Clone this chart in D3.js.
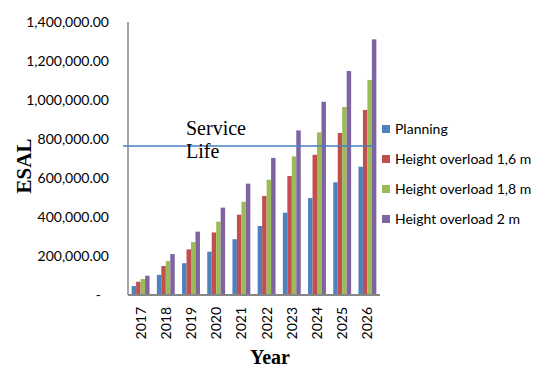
<!DOCTYPE html>
<html>
<head>
<meta charset="utf-8">
<script src="https://cdn.jsdelivr.net/npm/d3@7"></script>
<style>
  body { margin: 0; background: #fff; }
  svg { display: block; }
</style>
</head>
<body>
<div id="grafica"></div>
<script>
// datos
years      = ['2017', '2018', '2019', '2020', '2021', '2022', '2023', '2024', '2025', '2026']
series     = ['Planning', 'Height overload 1,6 m', 'Height overload 1,8 m', 'Height overload 2 m']
colores    = ['#4F81BD', '#C0504D', '#9BBB59', '#8064A2']
planning   = [46000, 103000, 163000, 222000, 286000, 354000, 422000, 497000, 578000, 658000]
overload16 = [68000, 149000, 234000, 321000, 412000, 508000, 610000, 719000, 831000, 949000]
overload18 = [82000, 174000, 271000, 376000, 478000, 591000, 711000, 834000, 964000, 1103000]
overload2  = [99000, 210000, 325000, 448000, 571000, 703000, 844000, 991000, 1149000, 1311000]
yTicks     = [0, 200000, 400000, 600000, 800000, 1000000, 1200000, 1400000]
serviceLife = 764000

valores = [planning, overload16, overload18, overload2]

ancho_total = 545
alto_total  = 369
margin = { left: 128, right: 165, top: 22, bottom: 74 }

ancho = ancho_total - margin.left - margin.right
alto  = alto_total - margin.top - margin.bottom

svg = d3
        .select('#grafica')
        .append('svg')
        .attr('width', ancho_total)
        .attr('height', alto_total)

g = svg
      .append('g')
      .attr('transform', `translate(${margin.left}, ${margin.top})`)

x = d3.scaleBand()
      .domain(years)
      .range([0, ancho])
      .paddingInner(0.29)
      .paddingOuter(0.145)

xs = d3.scaleBand()
       .domain(series)
       .range([0, x.bandwidth()])

y = d3.scaleLinear()
      .domain([0, 1400000])
      .range([alto, 0])

color = d3.scaleOrdinal()
          .domain(series)
          .range(colores)

// barras
series.forEach((s, i) => {
  g.append('g')
    .selectAll('rect')
    .data(years)
    .enter()
    .append('rect')
      .attr('x', (d) => x(d) + xs(s))
      .attr('y', (d, j) => y(valores[i][j]))
      .attr('width', xs.bandwidth())
      .attr('height', (d, j) => alto - y(valores[i][j]))
      .attr('fill', color(s))
})

// eje Y (solo etiquetas + linea)
yAxis = g.append('g')
  .call(d3.axisLeft(y)
          .tickValues(yTicks)
          .tickSize(0)
          .tickPadding(19)
          .tickFormat((d) => d == 0 ? '-' : d3.format(',.2f')(d)))
yAxis.select('.domain').remove()
yAxis.selectAll('text')
  .attr('font-family', 'Lato, sans-serif')
  .attr('font-size', '14px')
  .attr('fill', '#000')
yAxis.selectAll('.tick')
  .filter((d) => d == 0)
  .select('text')
  .attr('dx', -8)

g.append('line')
  .attr('x1', 0).attr('x2', 0)
  .attr('y1', 0).attr('y2', alto)
  .attr('stroke', '#868686')
  .attr('stroke-width', 1.5)

// eje X
xAxis = g.append('g')
  .attr('transform', `translate(0, ${alto})`)
  .call(d3.axisBottom(x).tickSize(0))
xAxis.select('.domain').remove()
xAxis.selectAll('text')
  .attr('font-family', 'Lato, sans-serif')
  .attr('font-size', '14px')
  .attr('fill', '#000')
  .attr('transform', 'rotate(-90)')
  .attr('text-anchor', 'end')
  .attr('x', -12)
  .attr('y', 0)
  .attr('dy', '0.35em')

g.append('line')
  .attr('x1', 0).attr('x2', ancho)
  .attr('y1', alto).attr('y2', alto)
  .attr('stroke', '#868686')
  .attr('stroke-width', 2)

// linea de vida de servicio
g.append('line')
  .attr('x1', -5).attr('x2', 247)
  .attr('y1', y(serviceLife)).attr('y2', y(serviceLife))
  .attr('stroke', '#4A7EBB')
  .attr('stroke-width', 1.5)

servicio = g.append('text')
  .attr('x', 58)
  .attr('y', y(serviceLife) - 11)
  .attr('font-family', 'Liberation Serif, serif')
  .attr('font-size', '20px')
  .attr('fill', '#000')
servicio.append('tspan').attr('x', 58).text('Service')
servicio.append('tspan').attr('x', 58).attr('dy', 22.5).text('Life')

// titulos de ejes
svg.append('text')
  .attr('transform', `translate(31, 166) rotate(-90)`)
  .attr('text-anchor', 'middle')
  .attr('font-family', 'Liberation Serif, serif')
  .attr('font-weight', 'bold')
  .attr('font-size', '21px')
  .text('ESAL')

svg.append('text')
  .attr('x', 270)
  .attr('y', 364)
  .attr('text-anchor', 'middle')
  .attr('font-family', 'Liberation Serif, serif')
  .attr('font-weight', 'bold')
  .attr('font-size', '20px')
  .text('Year')

// leyenda
leyenda = svg.append('g')
  .attr('transform', 'translate(382, 129)')

series.forEach((s, i) => {
  ren = leyenda.append('g')
    .attr('transform', `translate(0, ${i * 30})`)
  ren.append('rect')
    .attr('x', 0)
    .attr('y', -4)
    .attr('width', 8)
    .attr('height', 8)
    .attr('fill', color(s))
  ren.append('text')
    .attr('x', 13)
    .attr('y', 0)
    .attr('dy', '0.35em')
    .attr('font-family', 'Lato, sans-serif')
    .attr('font-size', '14px')
    .text(s)
})
</script>
</body>
</html>
